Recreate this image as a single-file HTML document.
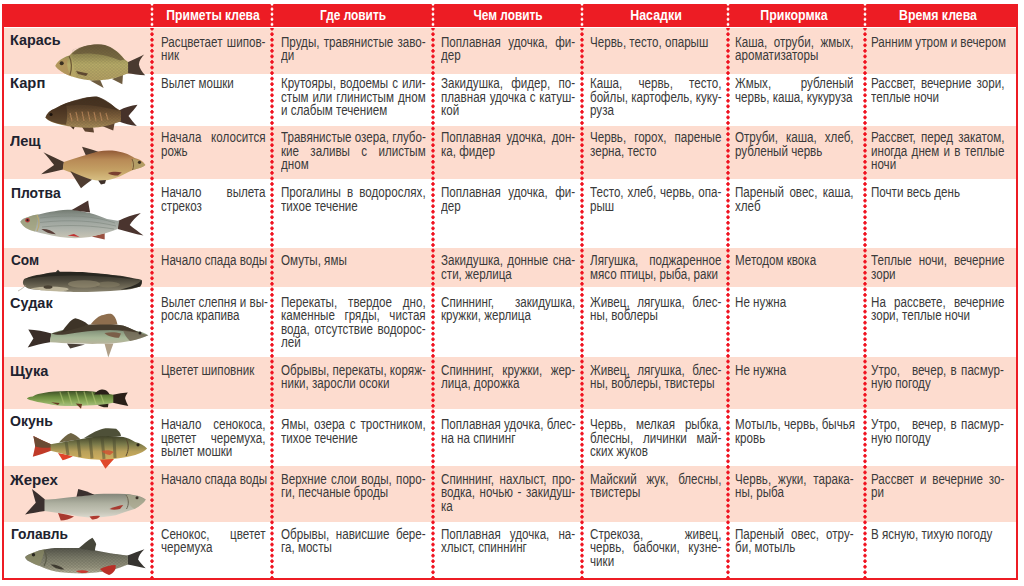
<!DOCTYPE html><html><head><meta charset="utf-8"><style>
html,body{margin:0;padding:0;background:#fff;width:1024px;height:586px;overflow:hidden}
body{position:relative;font-family:"Liberation Sans",sans-serif}
.a{position:absolute}
.l{position:absolute;white-space:nowrap;font-size:14px;line-height:14px;height:14px;color:#3a3a3a;transform-origin:0 0;transform:scaleX(0.83)}
.j{text-align:justify;text-align-last:justify}
.h{position:absolute;white-space:nowrap;font-weight:bold;font-size:13.8px;line-height:14px;color:#fff;transform-origin:50% 0;text-align:center}
.n{position:absolute;white-space:nowrap;font-weight:bold;font-size:15px;line-height:16px;color:#20222e;transform-origin:0 0}
.dh{position:absolute;width:4px;top:4px;height:23px;background-image:radial-gradient(circle,#fff 1.2px,rgba(255,255,255,0) 1.7px);background-size:4px 5.1px;background-position:0 -2.5px}
.db{position:absolute;width:4px;top:28px;height:550px;background-image:radial-gradient(circle,#f0101e 1.4px,rgba(240,16,30,0) 2px);background-size:4px 5.55px;background-position:0 -2.1px}
</style></head><body>

<div class="a" style="left:2px;top:4px;width:1016px;height:576px;background:#ed1c24"></div>
<div class="a" style="left:4px;top:27px;width:1012px;height:551px;background:#fff"></div>
<div class="a" style="left:4px;top:28px;width:1012px;height:46px;background:#fddccf"></div>
<div class="a" style="left:4px;top:126px;width:1012px;height:53px;background:#fddccf"></div>
<div class="a" style="left:4px;top:248px;width:1012px;height:39px;background:#fddccf"></div>
<div class="a" style="left:4px;top:357px;width:1012px;height:52px;background:#fddccf"></div>
<div class="a" style="left:4px;top:466px;width:1012px;height:56px;background:#fddccf"></div>
<div class="dh" style="left:150.2px"></div>
<div class="db" style="left:150.2px"></div>
<div class="dh" style="left:270.1px"></div>
<div class="db" style="left:270.1px"></div>
<div class="dh" style="left:430.9px"></div>
<div class="db" style="left:430.9px"></div>
<div class="dh" style="left:579.7px"></div>
<div class="db" style="left:579.7px"></div>
<div class="dh" style="left:725.9px"></div>
<div class="db" style="left:725.9px"></div>
<div class="dh" style="left:862.7px"></div>
<div class="db" style="left:862.7px"></div>
<div class="h" style="left:113.4px;top:8.7px;width:200px;transform:scaleX(0.879)">Приметы клева</div>
<div class="h" style="left:253.0px;top:8.7px;width:200px;transform:scaleX(0.861)">Где ловить</div>
<div class="h" style="left:408.0px;top:8.7px;width:200px;transform:scaleX(0.859)">Чем ловить</div>
<div class="h" style="left:555.7px;top:8.7px;width:200px;transform:scaleX(0.900)">Насадки</div>
<div class="h" style="left:694.2px;top:8.7px;width:200px;transform:scaleX(0.898)">Прикормка</div>
<div class="h" style="left:837.7px;top:8.7px;width:200px;transform:scaleX(0.893)">Время клева</div>
<div class="n" style="left:10.4px;top:32.4px;font-size:15.5px;transform:scaleX(0.926)">Карась</div>
<div class="n" style="left:10.4px;top:74.9px;font-size:15.5px;transform:scaleX(0.951)">Карп</div>
<div class="n" style="left:10.0px;top:132.7px;font-size:15.5px;transform:scaleX(0.941)">Лещ</div>
<div class="n" style="left:10.9px;top:184.6px;font-size:15.5px;transform:scaleX(0.896)">Плотва</div>
<div class="n" style="left:10.5px;top:251.6px;font-size:15.5px;transform:scaleX(0.881)">Сом</div>
<div class="n" style="left:10.4px;top:294.5px;font-size:15.5px;transform:scaleX(0.934)">Судак</div>
<div class="n" style="left:10.4px;top:362.6px;font-size:15.5px;transform:scaleX(0.940)">Щука</div>
<div class="n" style="left:10.4px;top:413.0px;font-size:15.5px;transform:scaleX(0.908)">Окунь</div>
<div class="n" style="left:9.9px;top:471.9px;font-size:15.5px;transform:scaleX(0.973)">Жерех</div>
<div class="n" style="left:10.5px;top:526.4px;font-size:15.5px;transform:scaleX(0.888)">Голавль</div>
<div class="l j" style="left:161.3px;top:34.75px;width:125.9px">Расцветает шипов-</div>
<div class="l" style="left:161.3px;top:48.25px">ник</div>
<div class="l j" style="left:280.5px;top:34.75px;width:174.3px">Пруды, травянистые заво-</div>
<div class="l" style="left:280.5px;top:48.25px">ди</div>
<div class="l j" style="left:441.1px;top:34.75px;width:161.7px">Поплавная удочка, фи-</div>
<div class="l" style="left:441.1px;top:48.25px">дер</div>
<div class="l" style="left:589.8px;top:34.75px">Червь, тесто, опарыш</div>
<div class="l j" style="left:735.4px;top:34.75px;width:142.9px">Каша, отруби, жмых,</div>
<div class="l" style="left:735.4px;top:48.25px">ароматизаторы</div>
<div class="l" style="left:871.4px;top:34.75px">Ранним утром и вечером</div>
<div class="l" style="left:161.3px;top:76.35px">Вылет мошки</div>
<div class="l j" style="left:280.5px;top:76.35px;width:174.3px">Крутояры, водоемы с или-</div>
<div class="l j" style="left:280.5px;top:89.85px;width:174.3px">стым или глинистым дном</div>
<div class="l" style="left:280.5px;top:103.35px">и слабым течением</div>
<div class="l j" style="left:441.1px;top:76.35px;width:161.7px">Закидушка, фидер, по-</div>
<div class="l j" style="left:441.1px;top:89.85px;width:161.7px">плавная удочка с катуш-</div>
<div class="l" style="left:441.1px;top:103.35px">кой</div>
<div class="l j" style="left:589.8px;top:76.35px;width:158.3px">Каша, червь, тесто,</div>
<div class="l j" style="left:589.8px;top:89.85px;width:158.3px">бойлы, картофель, куку-</div>
<div class="l" style="left:589.8px;top:103.35px">руза</div>
<div class="l j" style="left:735.4px;top:76.35px;width:142.9px">Жмых, рубленый</div>
<div class="l" style="left:735.4px;top:89.85px">червь, каша, кукуруза</div>
<div class="l j" style="left:871.4px;top:76.35px;width:160.7px">Рассвет, вечерние зори,</div>
<div class="l" style="left:871.4px;top:89.85px">теплые ночи</div>
<div class="l j" style="left:161.3px;top:130.45px;width:125.9px">Начала колосится</div>
<div class="l" style="left:161.3px;top:143.95px">рожь</div>
<div class="l j" style="left:280.5px;top:130.45px;width:174.3px">Травянистые озера, глубо-</div>
<div class="l j" style="left:280.5px;top:143.95px;width:174.3px">кие заливы с илистым</div>
<div class="l" style="left:280.5px;top:157.45px">дном</div>
<div class="l j" style="left:441.1px;top:130.45px;width:161.7px">Поплавная удочка, дон-</div>
<div class="l" style="left:441.1px;top:143.95px">ка, фидер</div>
<div class="l j" style="left:589.8px;top:130.45px;width:158.3px">Червь, горох, пареные</div>
<div class="l" style="left:589.8px;top:143.95px">зерна, тесто</div>
<div class="l j" style="left:735.4px;top:130.45px;width:142.9px">Отруби, каша, хлеб,</div>
<div class="l" style="left:735.4px;top:143.95px">рубленый червь</div>
<div class="l j" style="left:871.4px;top:130.45px;width:160.7px">Рассвет, перед закатом,</div>
<div class="l j" style="left:871.4px;top:143.95px;width:160.7px">иногда днем и в теплые</div>
<div class="l" style="left:871.4px;top:157.45px">ночи</div>
<div class="l j" style="left:161.3px;top:185.15px;width:125.9px">Начало вылета</div>
<div class="l" style="left:161.3px;top:198.65px">стрекоз</div>
<div class="l j" style="left:280.5px;top:185.15px;width:174.3px">Прогалины в водорослях,</div>
<div class="l" style="left:280.5px;top:198.65px">тихое течение</div>
<div class="l j" style="left:441.1px;top:185.15px;width:161.7px">Поплавная удочка, фи-</div>
<div class="l" style="left:441.1px;top:198.65px">дер</div>
<div class="l j" style="left:589.8px;top:185.15px;width:158.3px">Тесто, хлеб, червь, опа-</div>
<div class="l" style="left:589.8px;top:198.65px">рыш</div>
<div class="l j" style="left:735.4px;top:185.15px;width:142.9px">Пареный овес, каша,</div>
<div class="l" style="left:735.4px;top:198.65px">хлеб</div>
<div class="l" style="left:871.4px;top:185.15px">Почти весь день</div>
<div class="l" style="left:161.3px;top:253.05px">Начало спада воды</div>
<div class="l" style="left:280.5px;top:253.05px">Омуты, ямы</div>
<div class="l j" style="left:441.1px;top:253.05px;width:161.7px">Закидушка, донные сна-</div>
<div class="l" style="left:441.1px;top:266.55px">сти, жерлица</div>
<div class="l j" style="left:589.8px;top:253.05px;width:158.3px">Лягушка, поджаренное</div>
<div class="l" style="left:589.8px;top:266.55px">мясо птицы, рыба, раки</div>
<div class="l" style="left:735.4px;top:253.05px">Методом квока</div>
<div class="l j" style="left:871.4px;top:253.05px;width:160.7px">Теплые ночи, вечерние</div>
<div class="l" style="left:871.4px;top:266.55px">зори</div>
<div class="l j" style="left:161.3px;top:294.85px;width:125.9px">Вылет слепня и вы-</div>
<div class="l" style="left:161.3px;top:308.35px">росла крапива</div>
<div class="l j" style="left:280.5px;top:294.85px;width:174.3px">Перекаты, твердое дно,</div>
<div class="l j" style="left:280.5px;top:308.35px;width:174.3px">каменные гряды, чистая</div>
<div class="l j" style="left:280.5px;top:321.85px;width:174.3px">вода, отсутствие водорос-</div>
<div class="l" style="left:280.5px;top:335.35px">лей</div>
<div class="l j" style="left:441.1px;top:294.85px;width:161.7px">Спиннинг, закидушка,</div>
<div class="l" style="left:441.1px;top:308.35px">кружки, жерлица</div>
<div class="l j" style="left:589.8px;top:294.85px;width:158.3px">Живец, лягушка, блес-</div>
<div class="l" style="left:589.8px;top:308.35px">ны, воблеры</div>
<div class="l" style="left:735.4px;top:294.85px">Не нужна</div>
<div class="l j" style="left:871.4px;top:294.85px;width:160.7px">На рассвете, вечерние</div>
<div class="l" style="left:871.4px;top:308.35px">зори, теплые ночи</div>
<div class="l" style="left:161.3px;top:362.75px">Цветет шиповник</div>
<div class="l j" style="left:280.5px;top:362.75px;width:174.3px">Обрывы, перекаты, коряж-</div>
<div class="l" style="left:280.5px;top:376.25px">ники, заросли осоки</div>
<div class="l j" style="left:441.1px;top:362.75px;width:161.7px">Спиннинг, кружки, жер-</div>
<div class="l" style="left:441.1px;top:376.25px">лица, дорожка</div>
<div class="l j" style="left:589.8px;top:362.75px;width:158.3px">Живец, лягушка, блес-</div>
<div class="l" style="left:589.8px;top:376.25px">ны, воблеры, твистеры</div>
<div class="l" style="left:735.4px;top:362.75px">Не нужна</div>
<div class="l" style="left:871.4px;top:362.75px">Утро,</div>
<div class="l j" style="left:912.2px;top:362.75px;width:110.6px">вечер, в пасмур-</div>
<div class="l" style="left:871.4px;top:376.25px">ную погоду</div>
<div class="l j" style="left:161.3px;top:417.15px;width:125.9px">Начало сенокоса,</div>
<div class="l j" style="left:161.3px;top:430.65px;width:125.9px">цветет черемуха,</div>
<div class="l" style="left:161.3px;top:444.15px">вылет мошки</div>
<div class="l j" style="left:280.5px;top:417.15px;width:174.3px">Ямы, озера с тростником,</div>
<div class="l" style="left:280.5px;top:430.65px">тихое течение</div>
<div class="l j" style="left:441.1px;top:417.15px;width:161.7px">Поплавная удочка, блес-</div>
<div class="l" style="left:441.1px;top:430.65px">на на спининг</div>
<div class="l j" style="left:589.8px;top:417.15px;width:158.3px">Червь, мелкая рыбка,</div>
<div class="l j" style="left:589.8px;top:430.65px;width:158.3px">блесны, личинки май-</div>
<div class="l" style="left:589.8px;top:444.15px">ских жуков</div>
<div class="l j" style="left:735.4px;top:417.15px;width:142.9px">Мотыль, червь, бычья</div>
<div class="l" style="left:735.4px;top:430.65px">кровь</div>
<div class="l" style="left:871.4px;top:417.15px">Утро,</div>
<div class="l j" style="left:912.2px;top:417.15px;width:110.6px">вечер, в пасмур-</div>
<div class="l" style="left:871.4px;top:430.65px">ную погоду</div>
<div class="l" style="left:161.3px;top:471.55px">Начало спада воды</div>
<div class="l j" style="left:280.5px;top:471.55px;width:174.3px">Верхние слои воды, поро-</div>
<div class="l" style="left:280.5px;top:485.05px">ги, песчаные броды</div>
<div class="l j" style="left:441.1px;top:471.55px;width:161.7px">Спиннинг, нахлыст, про-</div>
<div class="l j" style="left:441.1px;top:485.05px;width:161.7px">водка, ночью - закидуш-</div>
<div class="l" style="left:441.1px;top:498.55px">ка</div>
<div class="l j" style="left:589.8px;top:471.55px;width:158.3px">Майский жук, блесны,</div>
<div class="l" style="left:589.8px;top:485.05px">твистеры</div>
<div class="l j" style="left:735.4px;top:471.55px;width:142.9px">Червь, жуки, тарака-</div>
<div class="l" style="left:735.4px;top:485.05px">ны, рыба</div>
<div class="l j" style="left:871.4px;top:471.55px;width:160.7px">Рассвет и вечерние зо-</div>
<div class="l" style="left:871.4px;top:485.05px">ри</div>
<div class="l j" style="left:161.3px;top:526.95px;width:125.9px">Сенокос, цветет</div>
<div class="l" style="left:161.3px;top:540.45px">черемуха</div>
<div class="l j" style="left:280.5px;top:526.95px;width:174.3px">Обрывы, нависшие бере-</div>
<div class="l" style="left:280.5px;top:540.45px">га, мосты</div>
<div class="l j" style="left:441.1px;top:526.95px;width:161.7px">Поплавная удочка, на-</div>
<div class="l" style="left:441.1px;top:540.45px">хлыст, спиннинг</div>
<div class="l j" style="left:589.8px;top:526.95px;width:158.3px">Стрекоза, живец,</div>
<div class="l j" style="left:589.8px;top:540.45px;width:158.3px">червь, бабочки, кузне-</div>
<div class="l" style="left:589.8px;top:553.95px">чики</div>
<div class="l j" style="left:735.4px;top:526.95px;width:142.9px">Пареный овес, отру-</div>
<div class="l" style="left:735.4px;top:540.45px">би, мотыль</div>
<div class="l" style="left:871.4px;top:526.95px">В ясную, тихую погоду</div>
<svg class="a" style="left:0;top:0" width="1024" height="586" viewBox="0 0 1024 586">
<defs>
<linearGradient id="gk" x1="0" y1="0" x2="0" y2="1"><stop offset="0" stop-color="#6a5a3e"/><stop offset="0.3" stop-color="#968a52"/><stop offset="0.55" stop-color="#b8ac68"/><stop offset="1" stop-color="#b4a062"/></linearGradient>
<linearGradient id="gc" x1="0" y1="0" x2="0" y2="1"><stop offset="0" stop-color="#3e2c1c"/><stop offset="0.35" stop-color="#5a4028"/><stop offset="0.65" stop-color="#80603a"/><stop offset="1" stop-color="#a88c58"/></linearGradient>
<linearGradient id="gl" x1="0" y1="0" x2="0" y2="1"><stop offset="0" stop-color="#925a36"/><stop offset="0.3" stop-color="#b88a56"/><stop offset="0.65" stop-color="#c4a064"/><stop offset="1" stop-color="#d8c084"/></linearGradient>
<linearGradient id="gp" x1="0" y1="0" x2="0" y2="1"><stop offset="0" stop-color="#737b72"/><stop offset="0.35" stop-color="#9aa29c"/><stop offset="0.7" stop-color="#b0b4ac"/><stop offset="1" stop-color="#c8c4b4"/></linearGradient>
<linearGradient id="gs" x1="0" y1="0" x2="0" y2="1"><stop offset="0" stop-color="#2c2a24"/><stop offset="0.4" stop-color="#4a463a"/><stop offset="0.7" stop-color="#6a6452"/><stop offset="1" stop-color="#8a8470"/></linearGradient>
<linearGradient id="gz" x1="0" y1="0" x2="0" y2="1"><stop offset="0" stop-color="#4a4030"/><stop offset="0.4" stop-color="#8a9a80"/><stop offset="0.7" stop-color="#a8b898"/><stop offset="1" stop-color="#b8b49c"/></linearGradient>
<linearGradient id="gq" x1="0" y1="0" x2="0" y2="1"><stop offset="0" stop-color="#3e4e26"/><stop offset="0.4" stop-color="#6a8a3e"/><stop offset="0.7" stop-color="#8aa858"/><stop offset="1" stop-color="#a8c080"/></linearGradient>
<linearGradient id="go" x1="0" y1="0" x2="0" y2="1"><stop offset="0" stop-color="#3e4028"/><stop offset="0.35" stop-color="#7a7a4a"/><stop offset="0.65" stop-color="#b8a05a"/><stop offset="1" stop-color="#d0b060"/></linearGradient>
<linearGradient id="gj" x1="0" y1="0" x2="0" y2="1"><stop offset="0" stop-color="#84867a"/><stop offset="0.4" stop-color="#aeb0a0"/><stop offset="0.75" stop-color="#c4c4b6"/><stop offset="1" stop-color="#dcdad0"/></linearGradient>
<linearGradient id="gg" x1="0" y1="0" x2="0" y2="1"><stop offset="0" stop-color="#54544a"/><stop offset="0.4" stop-color="#7c7c6a"/><stop offset="0.75" stop-color="#96947e"/><stop offset="1" stop-color="#b8b49c"/></linearGradient>
<pattern id="sc" width="3.5" height="3" patternUnits="userSpaceOnUse"><path d="M0,1.5 L1.75,0 L3.5,1.5 L1.75,3 Z" fill="none" stroke="#3a3a30" stroke-width="0.5"/></pattern>
</defs>
<!-- Карась -->
<g>
<path d="M127,62.5 C133,60 139,57 144.2,54.6 C141.5,57.5 139,61 138.9,64.4 C139.5,68 142,72 145.2,75.2 C139,75 133,74 127,73.2 Z" fill="#4a3a30"/>
<path d="M90,80.5 L103.7,88 L100,79.5 Z" fill="#6e5c40"/>
<path d="M112,79 L122.3,84.2 L123,74.5 Z" fill="#6e5c40"/>
<path d="M55.4,65.9 C56.5,62 62,57.5 69.5,55.5 C73,51.5 78,48 84,46.3 C90,44.6 98,44 105,45 C112,47 119,52 124.2,59 L128.1,62 L128.1,73.2 C122,76 113,79 104.7,79.8 C96,80.8 86,80.8 77,78 C68,75.5 60,72 55.4,65.9 Z" fill="url(#gk)"/>
<path d="M72,54 C78,48 88,44.5 98,44.3 C108,45 118,51 124.5,59.5 L120,60.5 C110,56 98,53.5 86,53.5 C80,53.8 76,54.5 72,54 Z" fill="#6a5838" opacity="0.7"/>
<path d="M55.4,65.9 C58,70 64,73.5 72,76.5 C68,72 66,66 68,58 C62,59 57,62 55.4,65.9 Z" fill="#b08e58" opacity="0.7"/>
<path d="M72,50 C80,46 95,44 105,45 C112,47 119,52 124.2,59 L128.1,62 L128.1,73.2 C122,76 113,79 104.7,79.8 C96,80.8 86,80.8 77,78 C74,70 72,60 72,50 Z" fill="url(#sc)" opacity="0.25"/>
<path d="M76,71 L88,73.5 L86,76 L78,74 Z" fill="#5e4830"/>
<path d="M69,56 C72,61 72,69 70,75" stroke="#6a5634" stroke-width="1.2" fill="none"/>
<circle cx="61.7" cy="63.2" r="2" fill="#3a3020"/>
</g>
<!-- Карп -->
<g>
<path d="M119,110.5 C125,107.5 131,105.2 137.5,104.8 C135.5,108.5 131,112.5 128.5,116 C131,119.5 134,123 136.8,126 C130,125.2 124.5,123.5 119,121.5 Z" fill="#46322a"/>
<path d="M82,127 L85,131.5 L94,132.5 L93,127 Z" fill="#5e4430"/>
<path d="M102,126 L113.2,130.5 L115,121 Z" fill="#5e4430"/>
<path d="M66,122 L73.5,129.5 L76,124 Z" fill="#4a3424"/>
<path d="M45.4,117.4 C47,113 50,110.5 55,108.5 C62,104 70,101.5 79,99.8 C86,97.5 92,96.2 98,97 C105,100 111,104 116,108 L121,111 L121,121.3 C114,124 104,127 95,127.5 C85,128 72,127.5 62,125 C54,123 48,121 45.4,117.4 Z" fill="url(#gc)"/>
<path d="M60,106 C72,100 88,96 97,96.5 C105,99 112,104 118,110.5 C108,108 90,104 75,105 C70,105.5 65,106 60,106 Z" fill="#45301e" opacity="0.8"/>
<path d="M70,113 L72,121 M76,112 L78,121 M82,111.5 L84,121 M88,111.5 L90,121 M94,112 L96,121 M100,112.5 L102,121 M106,113 L108,120" stroke="#c89060" stroke-width="1.2" opacity="0.75"/>
<path d="M45.4,117.4 C47,113 50,110.5 55,108.5 C60,106 64,104.7 66,104.5 C67.5,110 67.5,118 66,124.8 C56,123.5 49,121 45.4,117.4 Z" fill="#3a281a" opacity="0.6"/>
<path d="M66,104.5 C75,101 86,97.5 98,97 C105,100 111,104 116,108 L121,111 L121,121.3 C114,124 104,127 95,127.5 C85,128 72,127.5 66,124.8 Z" fill="url(#sc)" opacity="0.3"/>
<circle cx="51" cy="114.5" r="1.6" fill="#1a120c"/>
</g>
<!-- Лещ -->
<g>
<path d="M64,162 C58,159 50,155.5 43.4,152.2 C47,156 51,161 54.1,165.1 C50,168 45,171 41.2,174.2 C49,173 56,171 63,169.4 Z" fill="#45362c"/>
<path d="M86.3,156.5 L82,146.8 C88,148.5 94,150 98.2,151.7 Z" fill="#4a3a30"/>
<path d="M145.4,165.1 C143,161 139,159 134.7,158.1 C128,153.5 122,152 116,151 C110,150.3 104,150.4 98,151.5 C88,154 76,158 63.8,161.9 L62.7,169.4 C70,172 80,176.5 91,179.6 C98,181.5 106,181 114,178.5 C122,176 128,172 133,170 C139,168.5 143,167.5 145.4,165.1 Z" fill="url(#gl)"/>
<path d="M133,158.5 C138,160 143,162 145.4,165.1 C143,167.5 139,168.5 133,170 C131,166 131,162 133,158.5 Z" fill="#b0a068" opacity="0.8"/>
<path d="M70.2,171 L81,188.2 C85,185 89,182 92,179.8 C84,177 76,174 70.2,171 Z" fill="#4e3c30"/>
<path d="M98.2,180.5 L101,184.5 L105,183.4 L106,180 Z" fill="#3e3028"/>
<path d="M107.8,173 C112,171.5 118,171.5 121.8,172.5 L118,175.5 C114,175.5 110,175 107.8,173 Z" fill="#7a4030"/>
<path d="M132,159 C134,163 134,167 132.5,170" stroke="#7a5a38" stroke-width="1" fill="none"/>
<circle cx="139.5" cy="162.3" r="1.6" fill="#3a2e20"/>
</g>
<!-- Плотва -->
<g>
<path d="M118,221 C125,218 133,214.5 140.9,213.1 C136,217 132,221 129.7,225 C134,228.5 139,232 143.5,235.6 C135,234 126,231 117.8,229 Z" fill="#4a342e"/>
<path d="M91.5,236.5 L104.7,239.5 L104.7,232.9 Z" fill="#9a5040"/>
<path d="M20.3,221.7 C22,219 25,217.8 28.2,217.1 C32,215.5 35,214.8 38.7,214.5 C44,212.8 50,211.8 54.6,211.2 C60,210.3 66,209.8 72,209.8 C85,211 97,215 107,219 L119.2,221 L117.8,229 C110,232 100,235 90,237 C80,238.5 70,238.5 60,237 C50,235.5 42,233.5 34.8,231.6 C28,229.5 23,227 20.3,221.7 Z" fill="url(#gp)"/>
<path d="M71.7,210 L88.2,200.6 C88.5,204.5 89.5,208.5 90.1,212.5 Z" fill="#4a342e"/>
<path d="M40,218 C70,214 95,216 115,223 M40,222.5 C70,219 95,221 116,226 M42,227 C70,224 95,226 114,229" stroke="#7c847c" stroke-width="0.8" fill="none" opacity="0.7"/>
<path d="M20.3,221.7 C23,227 28,229.5 34.8,231.6 C37,226 37,219 38.7,214.5 C32,215 25,217.5 20.3,221.7 Z" fill="#a0a070" opacity="0.6"/>
<path d="M67.7,235.6 L79.6,236.9 L74,234 Z" fill="#c03030"/>
<path d="M41.4,229 C46,228.5 52,230 55.9,234.2 C50,234 45,232 41.4,229 Z" fill="#5a3e38"/>
<path d="M37,215 C39.5,220 39.5,226 37,231" stroke="#b8a870" stroke-width="1.2" fill="none"/>
<circle cx="27.5" cy="220.2" r="2.3" fill="#b83838"/>
<circle cx="27.5" cy="220.2" r="1.1" fill="#2a2020"/>
</g>
<!-- Сом -->
<g>
<path d="M22.9,283.1 C23,281 23.5,280 24.2,279.1 C30,276.5 35,275 41.4,274.5 C47,273 52,272.2 57.2,271.9 C70,271.8 80,272 87.5,272.5 C100,273.5 110,274.5 120.5,275.8 C127,276.8 131,277.8 133.7,278.5 C137,278.8 140,279 141.6,280 C142.5,282 142,285 140.2,286.4 C136,288 131,289 127,289.7 C116,290.7 105,291.2 94.1,291.7 C85,292 75,292 67.7,291.7 C58,291.3 48,290.8 41.4,290.3 C35,289.5 31,289 28.2,288.4 C25,287 23,285 22.9,283.1 Z" fill="url(#gs)"/>
<path d="M30,288.5 C40,286.5 52,285.5 64,287.5 C74,289 66,291.5 58,291.5 C48,291 38,290 30,288.5 Z" fill="#c8c0a4" opacity="0.85"/>
<ellipse cx="84" cy="284" rx="16" ry="3.8" fill="#9a9276" opacity="0.55"/>
<ellipse cx="108" cy="284.5" rx="12" ry="3" fill="#8a8268" opacity="0.5"/>
<path d="M24.2,279.1 C35,275 50,272.2 70,271.9 C95,272.5 120,275.5 141.6,280 C120,277.5 95,275.5 70,275.5 C50,275.8 35,277.5 24.2,279.1 Z" fill="#26241e" opacity="0.8"/>
<path d="M120,289.5 C128,289 135,288 140.2,286.4 C141.5,284 142,282 141.6,280 C139,284 130,287.5 120,289.5 Z" fill="#2a2822"/>
<path d="M55.5,272.2 L58,269.8 L60,272 Z" fill="#34322a"/>
<ellipse cx="48" cy="287" rx="4.5" ry="1.8" fill="#4a4234"/>
<path d="M26,285 C24,287 22,289 18,291" stroke="#9a9080" stroke-width="0.6" fill="none"/>
</g>
<!-- Судак -->
<g>
<path d="M51.5,333.5 C44,331.5 36,330 28.3,329.6 C30,332.5 32,335.5 33.4,338.5 C31.5,341.5 29.5,344.5 27.7,347.4 C35,345.5 42,343.5 50,342.3 Z" fill="#3a2e28"/>
<path d="M104.5,343.5 L108.3,357.5 L113.4,343.5 Z" fill="#b0a088"/>
<path d="M67,343.5 L70.2,348.6 L85,344.5 Z" fill="#4a4038"/>
<path d="M148.3,335.3 C145,333 141,331.5 136.3,330.9 C131,329 127,327 123.6,325.8 C115,323.5 100,323.5 88,324.8 C76,326.5 62,330 51.2,333.4 L49.9,342.3 C58,342.8 65,343.3 72.8,343.5 C85,344 100,344 110.9,343.5 C118,343 124,342 129.9,341 C138,339.5 144,337.5 148.3,335.3 Z" fill="url(#gz)"/>
<path d="M51.5,333.5 C65,330 78,326.5 90,325 C102,323.8 115,323.8 123.6,325.8 C130,328 136,331 140,333 C130,331.5 120,330 110,330 C95,330 80,332 65,334.5 C60,335 55,335 51.5,333.5 Z" fill="#463c2e"/>
<path d="M61.4,332.5 C66,326 70,320 75.3,318.2 C80,319 85,321.5 88.5,325 Z" fill="#3e3428"/>
<path d="M90.6,324.5 C95,319 99,315.5 103.2,315 C106,314 109,313.5 110.9,313.7 C114,315 116,317.5 117.5,324.5 Z" fill="#8e6e4e"/>
<path d="M123,330 C132,331 141,333 148.3,335.3 C144,337.5 138,339.5 130,341 C126,337 124,334 123,330 Z" fill="#6a5a4a" opacity="0.7"/>
<path d="M104.5,333 C110,332 116,332 121,333.5 L119,337.8 C113,337.5 108,336.5 104.5,333 Z" fill="#7a5e48"/>
<circle cx="140" cy="333" r="1.5" fill="#2a2420"/>
</g>
<!-- Щука -->
<g>
<path d="M113,394.7 C118,393.8 123,393 127.8,392.6 C126.5,394.5 125.1,396.5 125.1,398.5 C125.8,401 127,403.5 128.3,406 C123,405 118,404 113,402.8 Z" fill="#2a2018"/>
<path d="M96,403.5 C100,403.5 105,403 108.5,403.5 L107.9,407.3 C104,407.5 100,407 96,403.5 Z" fill="#2e2418"/>
<path d="M26.8,398.5 C28,397 30,396.5 32.7,396.4 C36,394.5 40,393.5 43.5,393.1 C47,392.2 51,391.7 54.2,391.5 C65,391 76,390.9 86.5,391 C95,391.5 105,393 113.3,394.7 L113.3,402.8 C105,404.5 95,405.5 86.5,405.5 C78,406 70,406 65,406 C58,405.5 53,404.8 48.9,403.9 C43,403 38,402 34.9,401.2 C31,400.5 28,399.5 26.8,398.5 Z" fill="url(#gq)"/>
<path d="M60,392 L64,404 M68,391.5 L72,405 M76,391.5 L80,405 M84,391.5 L88,405 M92,392 L96,404 M100,392.5 L104,403.5" stroke="#b8cc78" stroke-width="1.3" opacity="0.55"/>
<path d="M94,394.5 C96,391.5 99,389.5 101.5,389.4 C105,389.5 108,390.5 109.5,394.5 Z" fill="#2a2018"/>
<path d="M51,402.3 L59.6,403 L58,405 Z" fill="#6a3a22"/>
<path d="M75.7,403.5 L81,408.7 L82,404 Z" fill="#6a3a22"/>
</g>
<!-- Окунь -->
<g>
<path d="M51,444.3 C45,441.5 39,438.5 33.4,435.9 C34,439.5 35,443 35.1,446.6 C34.5,450 33.5,453.5 32.8,456.8 C39,455 45,453 51,450.8 Z" fill="#c03a28"/>
<path d="M51,444.3 C45,441.5 39,438.5 33.4,435.9 C34,439.5 35,443 35.1,446.6 C40,448 46,448 51,447.5 Z" fill="#6a4a34"/>
<path d="M58,453 L62.6,460.3 C66,459.5 70,458 73,456 Z" fill="#e0442a"/>
<path d="M99.5,459 L105.4,468.7 C108,466 111,462 114,459 Z" fill="#e0482a"/>
<path d="M84,438 C92,433 99,429 105.4,428.2 C109,428 113,428.2 116.2,428.8 C119,431 120.5,433 121,436 Z" fill="#4e5038"/>
<path d="M59,442.5 C63,438 67,434 70.9,432.9 C75,434.5 78,436.5 80.5,439.2 Z" fill="#6e6444"/>
<path d="M147.1,448.4 C144,445 140,443 135.2,441.9 C131,439.5 127,438 123.3,437.1 C110,435 95,436 81.6,438.9 C70,440.5 60,442.5 50.6,444.3 L50.6,450.8 C60,453 70,456 81.6,458 C88,459 94,459.7 99.5,459.7 C106,459.7 112,459.3 117.4,458.6 C124,457.5 130,456.5 135.2,455 C141,453 145,451 147.1,448.4 Z" fill="url(#go)"/>
<path d="M66,441 L68,455 M78,439.5 L80,457 M90,437.5 L92,458.5 M102,436.5 L104,459 M114,437 L115,458" stroke="#4a4a30" stroke-width="3" opacity="0.5"/>
<path d="M101.9,451 C106,449.5 111,450 113.8,452 L110,455 C106,454.5 103,453 101.9,451 Z" fill="#d05030" opacity="0.8"/>
<path d="M126,439 C129,444 129,450 126,456" stroke="#5a4a30" stroke-width="1" fill="none"/>
<circle cx="138" cy="444.8" r="1.6" fill="#2a2418"/>
</g>
<!-- Жерех -->
<g>
<path d="M45,499.6 C41,496 36.5,492.5 32,489 C33,493.5 34.5,498 35.75,502.75 C32.5,506.5 28.5,510.5 25.1,514.6 C31.5,513 38,512 45,510.9 Z" fill="#3a302e"/>
<path d="M145.75,499.6 C143,497 139,495.8 134.5,495.25 C131,494.5 128,494 125.75,494 C115,493.8 106,493.8 97,494 C90,494.5 84,495.5 78.25,496.5 C70,497.2 65,497.8 59.5,498.4 C54,499 49,499.3 44.5,499.6 L44.5,510.9 C51,512 58,513 65.75,514 C74,515.5 82,517 90.75,517.75 C99,517.8 107,516.5 115.75,515.25 C122,513 128,511 134.5,509 C140,506 144,503 145.75,499.6 Z" fill="url(#gj)"/>
<path d="M76.5,496.8 L78.25,489 C84,490.5 90,492.5 94.5,494.8 Z" fill="#3a302e"/>
<path d="M126,494.5 C131,494.5 139,496 145.75,499.6 C144,503 140,506 134.5,509 C129,506 126,500 126,494.5 Z" fill="#a8a68c" opacity="0.7"/>
<path d="M109.5,509 C114,507 119,505.5 123.25,505 L120,509 C116,510 112,510 109.5,509 Z" fill="#a83a30"/>
<path d="M58,513 C63,514 69,515 74,516.5 C70,519 65,520.5 60.75,520.5 Z" fill="#a83a30"/>
<path d="M89.5,516.5 C93,516 97,515.5 100,516 C99,518.5 95,519.5 92,519.5 Z" fill="#b03a30"/>
<path d="M126,495 C129,499 129,505 126.5,509" stroke="#6a6454" stroke-width="1" fill="none"/>
<circle cx="137" cy="497.8" r="1.5" fill="#3a3028"/>
</g>
<!-- Голавль -->
<g>
<path d="M127.5,555.6 C133,553.5 139,551 144.4,549.2 C141,552.5 138.5,556 138.1,559.4 C140,562.5 143,565.5 145.7,568.3 C139,567 133,565.5 127.5,564.5 Z" fill="#363430"/>
<path d="M25.1,556.9 C27,555 30,553.8 32.7,553 C37,551 41,549.8 45.4,549.2 C50,548.4 54,548.1 58.1,548 C65,547.8 72,547.9 78.4,548 C88,549 98,550.8 108.9,553 C115,554 121,554.8 127.9,555.6 L127.9,564.5 C122,567 116,569 108.9,570.8 C100,572.5 92,573.2 83.5,573.4 C75,573.5 66,573 58.1,572.1 C50,570.5 44,568 39,565.7 C33,563.5 29,561.5 27.6,560.7 C26,559.5 25.3,558 25.1,556.9 Z" fill="url(#gg)"/>
<path d="M78.4,548.5 C84,544 88,540 92.4,537.8 C94,540 95.5,542 96.2,544.2 C95.5,546.5 95,548.5 94.9,551 Z" fill="#46463a"/>
<path d="M45.4,549.2 C50,548.4 54,548.1 58.1,548 C65,547.8 72,547.9 78.4,548 C88,549 98,550.8 108.9,553 C115,554 121,554.8 127.9,555.6 L127.9,564.5 C122,567 116,569 108.9,570.8 C100,572.5 92,573.2 83.5,573.4 C75,573.5 66,573 58.1,572.1 C50,570.5 44,568 39,565.7 Z" fill="url(#sc)" opacity="0.35"/>
<path d="M25.1,556.9 C27,560 33,563.5 39,565.7 C42,561 43,555 45.4,549.2 C37,550.5 30,553.5 25.1,556.9 Z" fill="#8a8a64" opacity="0.7"/>
<path d="M50.5,564.5 C55,564 60,565.5 64.4,569.5 C58,569.5 54,567.5 50.5,564.5 Z" fill="#3e3a30"/>
<path d="M100,569 C104,567 110,565 115.5,565 C116.5,569 114,573 109,575 C105,573.5 102,571.5 100,569 Z" fill="#b83028"/>
<path d="M75.9,571 C80,570 85,570 88.6,571.5 C86,573.5 80,573.8 75.9,571 Z" fill="#c83a30"/>
<path d="M44,550 C47,555 47,561 44,566" stroke="#5a5a48" stroke-width="1.2" fill="none"/>
<circle cx="33.5" cy="554.8" r="1.7" fill="#2a2820"/>
</g>
</svg>

</body></html>
